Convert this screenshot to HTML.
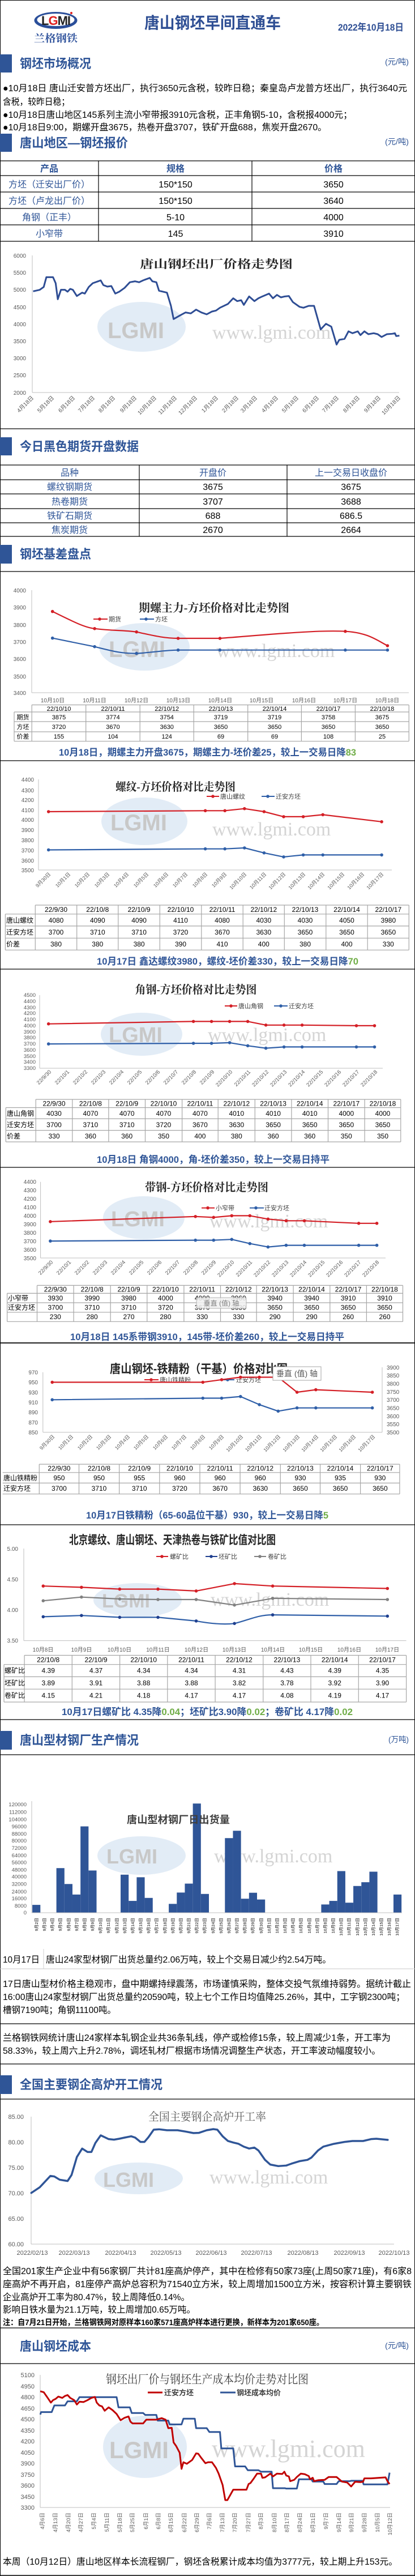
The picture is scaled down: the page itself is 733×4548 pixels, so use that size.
<!DOCTYPE html>
<html><head><meta charset="utf-8">
<style>
html,body{margin:0;padding:0;background:#fff;}
svg{display:block;}
text{font-family:"Liberation Sans","Noto Sans CJK SC",sans-serif;}
.sec{font-size:22px;font-weight:bold;fill:#2f5597;}
.unit{font-size:14px;fill:#2f5597;}
.p{font-size:16px;fill:#000;}
.cap{font-size:17px;font-weight:bold;fill:#2f5597;}
.g{fill:#70ad47;}
.ax{font-size:10px;fill:#595959;}
.axr{font-size:10px;fill:#595959;text-anchor:end;}
.tt{font-size:20px;font-weight:bold;fill:#262626;font-family:"Liberation Serif","Noto Serif CJK SC",serif;text-anchor:middle;}
.lg{font-size:11px;fill:#404040;}
.tc{font-size:11px;fill:#000;text-anchor:middle;}
.tl{font-size:11px;fill:#000;}
.mt{font-size:16px;fill:#000;text-anchor:middle;}
.mb{font-size:16px;fill:#2f5597;text-anchor:middle;}
.mh{font-size:16px;font-weight:bold;fill:#2f5597;text-anchor:middle;}
.wm{font-size:34px;fill:#d4d4d4;font-family:"Liberation Serif",serif;}
.rl{fill:none;stroke:#d41f26;stroke-width:2.2;stroke-linejoin:round;}
.bl{fill:none;stroke:#2f5fa8;stroke-width:2.2;stroke-linejoin:round;}
.gl{fill:none;stroke:#808080;stroke-width:2.2;stroke-linejoin:round;}
.grid line{stroke:#a6a6a6;stroke-width:1.2;}
.blk line{stroke:#000;stroke-width:1.2;}
.axl{stroke:#bfbfbf;stroke-width:1;}
</style></head>
<body>
<svg width="733" height="4548" viewBox="0 0 733 4548" xmlns="http://www.w3.org/2000/svg">
<rect x="0" y="0" width="733" height="4548" fill="#fff"/>
<!-- page frame -->
<line x1="0.5" y1="0" x2="0.5" y2="4548" stroke="#000"/>
<line x1="732.5" y1="0" x2="732.5" y2="4548" stroke="#000"/>
<line x1="0" y1="0.5" x2="733" y2="0.5" stroke="#000"/>
<line x1="0" y1="4547" x2="733" y2="4547" stroke="#000" stroke-width="1.5"/>

<!-- header -->
<ellipse cx="98.5" cy="36" rx="38" ry="15" fill="#2b4f9a"/>
<ellipse cx="98.5" cy="35" rx="33" ry="11" fill="#fff"/>
<text x="98.5" y="44" text-anchor="middle" style="font-size:22px;font-weight:bold;fill:#222;letter-spacing:-1px">L<tspan fill="#e0201f">G</tspan>MI</text>
<circle cx="126" cy="23" r="2" fill="#e0201f"/>
<text x="60" y="74" textLength="77" lengthAdjust="spacingAndGlyphs" style="font-size:18px;font-weight:bold;fill:#2b4f9a;font-family:'Noto Serif CJK SC',serif">兰格钢铁</text>
<text x="255" y="50" textLength="241" lengthAdjust="spacingAndGlyphs" style="font-size:28px;font-weight:bold;fill:#2f4f94">唐山钢坯早间直通车</text>
<text x="597" y="54" textLength="116" lengthAdjust="spacingAndGlyphs" style="font-size:17px;font-weight:bold;fill:#2f4f94">2022年10月18日</text>

<!-- section 1 -->
<rect x="0" y="96" width="21" height="32" fill="#2f5597"/>
<text class="sec" x="35" y="120" textLength="126" lengthAdjust="spacingAndGlyphs">钢坯市场概况</text>
<text class="unit" x="680" y="114" textLength="42" lengthAdjust="spacingAndGlyphs">(元/吨)</text>
<text class="p" x="5" y="161" textLength="714" lengthAdjust="spacingAndGlyphs">●10月18日 唐山迁安普方坯出厂，执行3650元含税，较昨日稳；秦皇岛卢龙普方坯出厂，执行3640元</text>
<text class="p" x="5" y="185" textLength="118" lengthAdjust="spacingAndGlyphs">含税，较昨日稳；</text>
<text class="p" x="5" y="208" textLength="617" lengthAdjust="spacingAndGlyphs">●10月18日唐山地区145系列主流小窄带报3910元含税，正丰角钢5-10，含税报4000元；</text>
<text class="p" x="5" y="230" textLength="572" lengthAdjust="spacingAndGlyphs">●10月18日9:00，期螺开盘3675，热卷开盘3707，铁矿开盘688，焦炭开盘2670。</text>

<rect x="0" y="236" width="21" height="32" fill="#2f5597"/>
<text class="sec" x="35" y="260" textLength="191" lengthAdjust="spacingAndGlyphs">唐山地区—钢坯报价</text>
<text class="unit" x="680" y="255" textLength="42" lengthAdjust="spacingAndGlyphs">(元/吨)</text>

<!-- table1 -->
<g class="blk">
<line x1="0" y1="284" x2="733" y2="284"/><line x1="0" y1="310" x2="733" y2="310"/>
<line x1="0" y1="339" x2="733" y2="339"/><line x1="0" y1="368" x2="733" y2="368"/>
<line x1="0" y1="397" x2="733" y2="397"/><line x1="0" y1="426" x2="733" y2="426"/>
<line x1="174" y1="284" x2="174" y2="426"/><line x1="445" y1="284" x2="445" y2="426"/>
</g>
<text class="mh" x="87" y="303">产品</text><text class="mh" x="310" y="303">规格</text><text class="mh" x="589" y="303">价格</text>
<text class="mb" x="87" y="331">方坯（迁安出厂价）</text><text class="mt" x="310" y="331">150*150</text><text class="mt" x="589" y="331">3650</text>
<text class="mb" x="87" y="360">方坯（卢龙出厂价）</text><text class="mt" x="310" y="360">150*150</text><text class="mt" x="589" y="360">3640</text>
<text class="mb" x="87" y="389">角钢（正丰）</text><text class="mt" x="310" y="389">5-10</text><text class="mt" x="589" y="389">4000</text>
<text class="mb" x="87" y="418">小窄带</text><text class="mt" x="310" y="418">145</text><text class="mt" x="589" y="418">3910</text>

<!-- chart1 -->
<ellipse cx="250" cy="577" rx="78" ry="44" fill="#dbe7f4" opacity="0.8"/>
<text x="190" y="597" style="font-size:40px;font-weight:bold;fill:#c8c8c8">LGMI</text>
<text class="wm" x="375" y="598">www.lgmi.com</text>
<line x1="57" y1="451" x2="57" y2="693" class="axl"/>
<line x1="57" y1="693" x2="705" y2="693" class="axl"/>
<g class="axr">
<text x="46" y="455">6000</text><text x="46" y="485">5500</text><text x="46" y="515">5000</text><text x="46" y="546">4500</text><text x="46" y="576">4000</text><text x="46" y="606">3500</text><text x="46" y="636">3000</text><text x="46" y="666">2500</text><text x="46" y="697">2000</text>
</g>
<text x="382" y="473" textLength="270" lengthAdjust="spacingAndGlyphs" class="tt">唐山钢坯出厂价格走势图</text>
<g style="font-size:10px;fill:#595959;text-anchor:end">
<text transform="translate(60,703) rotate(-45)">4月18日</text><text transform="translate(96,703) rotate(-45)">5月18日</text><text transform="translate(133,703) rotate(-45)">6月18日</text><text transform="translate(168,703) rotate(-45)">7月18日</text><text transform="translate(204,703) rotate(-45)">8月18日</text><text transform="translate(242,703) rotate(-45)">9月18日</text><text transform="translate(277,703) rotate(-45)">10月18日</text><text transform="translate(313,703) rotate(-45)">11月18日</text><text transform="translate(349,703) rotate(-45)">12月18日</text><text transform="translate(386,703) rotate(-45)">1月18日</text><text transform="translate(422,703) rotate(-45)">2月18日</text><text transform="translate(455,703) rotate(-45)">3月18日</text><text transform="translate(492,703) rotate(-45)">4月18日</text><text transform="translate(528,703) rotate(-45)">5月18日</text><text transform="translate(564,703) rotate(-45)">6月18日</text><text transform="translate(599,703) rotate(-45)">7月18日</text><text transform="translate(636,703) rotate(-45)">8月18日</text><text transform="translate(673,703) rotate(-45)">9月18日</text><text transform="translate(708,703) rotate(-45)">10月18日</text>
</g>
<g transform="translate(0,400) scale(0.4681,0.3333)">
<polyline vector-effect="non-scaling-stroke" fill="none" stroke="#2e4d94" stroke-width="3" stroke-linejoin="round" points="125,343 150,335 165,320 175,268 200,268 210,300 218,385 230,335 245,335 255,345 265,330 275,335 290,368 310,350 320,355 335,320 350,300 370,290 380,285 390,310 405,318 420,315 435,355 450,345 470,325 490,295 510,290 525,295 540,285 565,272 575,290 590,295 600,340 630,350 645,420 655,490 680,470 700,455 720,460 740,440 760,455 780,465 800,450 815,445 830,430 860,410 880,380 895,395 910,390 920,415 940,370 960,395 975,380 990,370 1015,355 1030,380 1045,362 1060,375 1075,370 1090,368 1105,400 1130,425 1145,430 1165,420 1185,420 1195,470 1210,545 1230,515 1250,530 1270,625 1280,600 1300,595 1315,555 1330,565 1350,555 1360,575 1375,555 1390,570 1410,565 1425,570 1440,585 1460,570 1480,568 1490,565 1495,580 1507,578"/>
</g>
<line x1="0" y1="757" x2="733" y2="757" stroke="#000" stroke-width="1.2"/>

<!-- section 3 -->
<rect x="0" y="772" width="21" height="32" fill="#2f5597"/>
<text class="sec" x="35" y="796" textLength="210" lengthAdjust="spacingAndGlyphs">今日黑色期货开盘数据</text>
<g class="blk">
<line x1="0" y1="821" x2="733" y2="821"/><line x1="0" y1="847" x2="733" y2="847"/>
<line x1="0" y1="872" x2="733" y2="872"/><line x1="0" y1="898" x2="733" y2="898"/>
<line x1="0" y1="923" x2="733" y2="923"/><line x1="0" y1="947" x2="733" y2="947"/>
<line x1="246" y1="821" x2="246" y2="947"/><line x1="507" y1="821" x2="507" y2="947"/>
</g>
<text class="mb" x="123" y="840">品种</text><text class="mb" x="376" y="840">开盘价</text><text class="mb" x="620" y="840">上一交易日收盘价</text>
<text class="mb" x="123" y="865">螺纹钢期货</text><text class="mt" x="376" y="865">3675</text><text class="mt" x="620" y="865">3675</text>
<text class="mb" x="123" y="891">热卷期货</text><text class="mt" x="376" y="891">3707</text><text class="mt" x="620" y="891">3688</text>
<text class="mb" x="123" y="916">铁矿石期货</text><text class="mt" x="376" y="916">688</text><text class="mt" x="620" y="916">686.5</text>
<text class="mb" x="123" y="941">焦炭期货</text><text class="mt" x="376" y="941">2670</text><text class="mt" x="620" y="941">2664</text>

<rect x="0" y="962" width="21" height="33" fill="#2f5597"/>
<text class="sec" x="35" y="986" textLength="126" lengthAdjust="spacingAndGlyphs">钢坯基差盘点</text>
<line x1="0" y1="1009" x2="733" y2="1009" stroke="#000" stroke-width="1.2"/>

<!-- chart2 -->
<ellipse cx="255" cy="1142" rx="80" ry="42" fill="#dbe7f4" opacity="0.8"/>
<text x="192" y="1160" style="font-size:40px;font-weight:bold;fill:#c8c8c8">LGMI</text>
<text class="wm" x="382" y="1160">www.lgmi.com</text>
<line x1="56" y1="1042" x2="56" y2="1223" class="axl"/><line x1="56" y1="1223" x2="722" y2="1223" class="axl"/>
<g class="axr"><text x="46" y="1046">4000</text><text x="46" y="1076">3900</text><text x="46" y="1107">3800</text><text x="46" y="1137">3700</text><text x="46" y="1167">3600</text><text x="46" y="1198">3500</text><text x="46" y="1227">3400</text></g>
<text class="tt" x="378" y="1080" textLength="266" lengthAdjust="spacingAndGlyphs">期螺主力-方坯价格对比走势图</text>
<line x1="165" y1="1093" x2="190" y2="1093" stroke="#d41f26" stroke-width="2"/><circle cx="176" cy="1093" r="2.8" fill="#d41f26"/><text class="lg" x="192" y="1097">期货</text>
<line x1="247" y1="1093" x2="272" y2="1093" stroke="#2f5fa8" stroke-width="2"/><circle cx="258" cy="1093" r="2.8" fill="#2f5fa8"/><text class="lg" x="274" y="1097">方坯</text>
<path class="rl" d="M92.7,1079.6 C130,1098 150,1108 167.1,1109.8 C200,1114 215,1112 241.1,1115.7 C270,1122 290,1127 314.6,1127 L388.5,1127 C480,1120 560,1112 609.9,1114.7 C650,1117 665,1130 684.4,1140"/>
<path class="bl" d="M92.7,1126.6 L167.1,1141.7 C200,1150 215,1154 241.1,1153.6 C270,1152 290,1148 314.6,1147.7 L684.4,1147.7"/>
<g fill="#d41f26"><circle cx="92.7" cy="1079.6" r="2.8"/><circle cx="167.1" cy="1109.8" r="2.8"/><circle cx="241.1" cy="1115.7" r="2.8"/><circle cx="314.6" cy="1127" r="2.8"/><circle cx="388.5" cy="1127" r="2.8"/><circle cx="609.9" cy="1114.7" r="2.8"/><circle cx="684.4" cy="1140" r="2.8"/></g>
<g fill="#2f5fa8"><circle cx="92.7" cy="1126.6" r="2.8"/><circle cx="167.1" cy="1141.7" r="2.8"/><circle cx="241.1" cy="1153.6" r="2.8"/><circle cx="314.6" cy="1147.7" r="2.8"/><circle cx="388.5" cy="1147.7" r="2.8"/><circle cx="609.9" cy="1147.7" r="2.8"/><circle cx="684.4" cy="1147.7" r="2.8"/></g>
<g class="ax" text-anchor="middle"><text x="93" y="1240">10月10日</text><text x="167" y="1240">10月11日</text><text x="241" y="1240">10月12日</text><text x="315" y="1240">10月13日</text><text x="389" y="1240">10月14日</text><text x="462" y="1240">10月15日</text><text x="537" y="1240">10月16日</text><text x="610" y="1240">10月17日</text><text x="684" y="1240">10月18日</text></g>
<g class="grid">
<line x1="56" y1="1244.5" x2="722" y2="1244.5"/><line x1="25" y1="1257" x2="722" y2="1257"/><line x1="25" y1="1274" x2="722" y2="1274"/><line x1="25" y1="1292" x2="722" y2="1292"/><line x1="25" y1="1308.7" x2="722" y2="1308.7"/>
<line x1="25" y1="1257" x2="25" y2="1308.7"/><line x1="56.2" y1="1244.5" x2="56.2" y2="1308.7"/><line x1="151.7" y1="1244.5" x2="151.7" y2="1308.7"/><line x1="247.2" y1="1244.5" x2="247.2" y2="1308.7"/><line x1="342.2" y1="1244.5" x2="342.2" y2="1308.7"/><line x1="437.7" y1="1244.5" x2="437.7" y2="1308.7"/><line x1="532.4" y1="1244.5" x2="532.4" y2="1308.7"/><line x1="627.4" y1="1244.5" x2="627.4" y2="1308.7"/><line x1="722.3" y1="1244.5" x2="722.3" y2="1308.7"/>
</g>
<g class="tc">
<text x="104" y="1255">22/10/10</text><text x="199.5" y="1255">22/10/11</text><text x="294.7" y="1255">22/10/12</text><text x="390" y="1255">22/10/13</text><text x="485" y="1255">22/10/14</text><text x="580" y="1255">22/10/17</text><text x="675" y="1255">22/10/18</text>
<text x="104" y="1270">3875</text><text x="199.5" y="1270">3774</text><text x="294.7" y="1270">3754</text><text x="390" y="1270">3719</text><text x="485" y="1270">3719</text><text x="580" y="1270">3758</text><text x="675" y="1270">3675</text>
<text x="104" y="1287">3720</text><text x="199.5" y="1287">3670</text><text x="294.7" y="1287">3630</text><text x="390" y="1287">3650</text><text x="485" y="1287">3650</text><text x="580" y="1287">3650</text><text x="675" y="1287">3650</text>
<text x="104" y="1304">155</text><text x="199.5" y="1304">104</text><text x="294.7" y="1304">124</text><text x="390" y="1304">69</text><text x="485" y="1304">69</text><text x="580" y="1304">108</text><text x="675" y="1304">25</text>
<text x="40.5" y="1270">期货</text><text x="40.5" y="1287">方坯</text><text x="40.5" y="1304">价差</text>
</g>
<text class="cap" x="104" y="1334" textLength="525" lengthAdjust="spacingAndGlyphs">10月18日，期螺主力开盘3675，期螺主力-坯价差25，较上一交易日降<tspan class="g">83</tspan></text>
<line x1="0" y1="1343" x2="733" y2="1343" stroke="#000" stroke-width="1.2"/>

<!-- chart3 -->
<ellipse cx="255" cy="1450" rx="76" ry="42" fill="#dbe7f4" opacity="0.8"/>
<text x="195" y="1466" style="font-size:40px;font-weight:bold;fill:#c8c8c8">LGMI</text>
<text class="wm" x="375" y="1475">www.lgmi.com</text>
<line x1="68" y1="1376" x2="68" y2="1536" class="axl"/><line x1="68" y1="1536" x2="692" y2="1536" class="axl"/>
<g class="axr"><text x="60" y="1380">4400</text><text x="60" y="1399">4300</text><text x="60" y="1416">4200</text><text x="60" y="1434">4100</text><text x="60" y="1451">4000</text><text x="60" y="1469">3900</text><text x="60" y="1487">3800</text><text x="60" y="1505">3700</text><text x="60" y="1523">3600</text><text x="60" y="1540">3500</text></g>
<text class="tt" x="310" y="1396" textLength="212" lengthAdjust="spacingAndGlyphs">螺纹-方坯价格对比走势图</text>
<line x1="365" y1="1406" x2="387" y2="1406" stroke="#d41f26" stroke-width="2"/><circle cx="376" cy="1406" r="2.8" fill="#d41f26"/><text class="lg" x="389" y="1410">唐山螺纹</text>
<line x1="462" y1="1406" x2="485" y2="1406" stroke="#2f5fa8" stroke-width="2"/><circle cx="473" cy="1406" r="2.8" fill="#2f5fa8"/><text class="lg" x="487" y="1410">迁安方坯</text>
<polyline class="rl" points="85.7,1433 362.6,1431.3 397.2,1431.3 431.8,1427.7 466.4,1433 501,1441.9 535.6,1441.9 570.2,1438.4 674.1,1450.8"/>
<polyline class="bl" points="85.7,1500.5 362.6,1498.7 397.2,1498.7 431.8,1497 466.4,1505.8 501,1512.9 535.6,1509.4 570.2,1509.4 674.1,1509.4"/>
<g fill="#d41f26"><circle cx="85.7" cy="1433" r="2.8"/><circle cx="362.6" cy="1431.3" r="2.8"/><circle cx="397.2" cy="1431.3" r="2.8"/><circle cx="431.8" cy="1427.7" r="2.8"/><circle cx="466.4" cy="1433" r="2.8"/><circle cx="501" cy="1441.9" r="2.8"/><circle cx="535.6" cy="1441.9" r="2.8"/><circle cx="570.2" cy="1438.4" r="2.8"/><circle cx="674.1" cy="1450.8" r="2.8"/></g>
<g fill="#2f5fa8"><circle cx="85.7" cy="1500.5" r="2.8"/><circle cx="362.6" cy="1498.7" r="2.8"/><circle cx="397.2" cy="1498.7" r="2.8"/><circle cx="431.8" cy="1497" r="2.8"/><circle cx="466.4" cy="1505.8" r="2.8"/><circle cx="501" cy="1512.9" r="2.8"/><circle cx="535.6" cy="1509.4" r="2.8"/><circle cx="570.2" cy="1509.4" r="2.8"/><circle cx="674.1" cy="1509.4" r="2.8"/></g>
<g style="font-size:9px;fill:#595959;text-anchor:end">
<text transform="translate(90,1544) rotate(-45)">9月30日</text><text transform="translate(125,1544) rotate(-45)">10月1日</text><text transform="translate(159,1544) rotate(-45)">10月2日</text><text transform="translate(194,1544) rotate(-45)">10月3日</text><text transform="translate(228,1544) rotate(-45)">10月4日</text><text transform="translate(263,1544) rotate(-45)">10月5日</text><text transform="translate(298,1544) rotate(-45)">10月6日</text><text transform="translate(332,1544) rotate(-45)">10月7日</text><text transform="translate(367,1544) rotate(-45)">10月8日</text><text transform="translate(401,1544) rotate(-45)">10月9日</text><text transform="translate(436,1544) rotate(-45)">10月10日</text><text transform="translate(471,1544) rotate(-45)">10月11日</text><text transform="translate(505,1544) rotate(-45)">10月12日</text><text transform="translate(540,1544) rotate(-45)">10月13日</text><text transform="translate(574,1544) rotate(-45)">10月14日</text><text transform="translate(609,1544) rotate(-45)">10月15日</text><text transform="translate(644,1544) rotate(-45)">10月16日</text><text transform="translate(678,1544) rotate(-45)">10月17日</text>
</g>
<g class="grid">
<line x1="62.3" y1="1598" x2="722.3" y2="1598"/><line x1="9.4" y1="1613.8" x2="722.3" y2="1613.8"/><line x1="9.4" y1="1634.9" x2="722.3" y2="1634.9"/><line x1="9.4" y1="1656.3" x2="722.3" y2="1656.3"/><line x1="9.4" y1="1677.3" x2="722.3" y2="1677.3"/>
<line x1="9.4" y1="1613.8" x2="9.4" y2="1677.3"/><line x1="62.3" y1="1598" x2="62.3" y2="1677.3"/><line x1="135.7" y1="1598" x2="135.7" y2="1677.3"/><line x1="208.8" y1="1598" x2="208.8" y2="1677.3"/><line x1="282.3" y1="1598" x2="282.3" y2="1677.3"/><line x1="355.8" y1="1598" x2="355.8" y2="1677.3"/><line x1="429.2" y1="1598" x2="429.2" y2="1677.3"/><line x1="502.3" y1="1598" x2="502.3" y2="1677.3"/><line x1="575.8" y1="1598" x2="575.8" y2="1677.3"/><line x1="649.2" y1="1598" x2="649.2" y2="1677.3"/><line x1="722.3" y1="1598" x2="722.3" y2="1677.3"/>
</g>
<g class="tc" style="font-size:12px">
<text x="99" y="1610">22/9/30</text><text x="172.3" y="1610">22/10/8</text><text x="245.6" y="1610">22/10/9</text><text x="319" y="1610">22/10/10</text><text x="392.5" y="1610">22/10/11</text><text x="465.8" y="1610">22/10/12</text><text x="539" y="1610">22/10/13</text><text x="612.5" y="1610">22/10/14</text><text x="685.8" y="1610">22/10/17</text>
<text x="99" y="1629">4080</text><text x="172.3" y="1629">4090</text><text x="245.6" y="1629">4090</text><text x="319" y="1629">4110</text><text x="392.5" y="1629">4080</text><text x="465.8" y="1629">4030</text><text x="539" y="1629">4030</text><text x="612.5" y="1629">4050</text><text x="685.8" y="1629">3980</text>
<text x="99" y="1650">3700</text><text x="172.3" y="1650">3710</text><text x="245.6" y="1650">3710</text><text x="319" y="1650">3720</text><text x="392.5" y="1650">3670</text><text x="465.8" y="1650">3630</text><text x="539" y="1650">3650</text><text x="612.5" y="1650">3650</text><text x="685.8" y="1650">3650</text>
<text x="99" y="1671">380</text><text x="172.3" y="1671">380</text><text x="245.6" y="1671">380</text><text x="319" y="1671">390</text><text x="392.5" y="1671">410</text><text x="465.8" y="1671">400</text><text x="539" y="1671">380</text><text x="612.5" y="1671">400</text><text x="685.8" y="1671">330</text>
</g>
<g class="tl" style="font-size:12px"><text x="11" y="1629">唐山螺纹</text><text x="11" y="1650">迁安方坯</text><text x="11" y="1671">价差</text></g>
<text class="cap" x="171" y="1703" textLength="462" lengthAdjust="spacingAndGlyphs">10月17日 鑫达螺纹3980，螺纹-坯价差330，较上一交易日降<tspan class="g">70</tspan></text>
<line x1="0" y1="1711" x2="733" y2="1711" stroke="#000" stroke-width="1.2"/>

<!-- chart4 -->
<ellipse cx="250" cy="1826" rx="72" ry="38" fill="#dbe7f4" opacity="0.8"/>
<text x="192" y="1840" style="font-size:38px;font-weight:bold;fill:#c8c8c8">LGMI</text>
<text class="wm" x="367" y="1838">www.lgmi.com</text>
<line x1="70" y1="1757" x2="70" y2="1886" class="axl"/><line x1="70" y1="1886" x2="676" y2="1886" class="axl"/>
<g class="axr" style="font-size:9.5px"><text x="63" y="1760">4500</text><text x="63" y="1771">4400</text><text x="63" y="1782">4300</text><text x="63" y="1792">4200</text><text x="63" y="1803">4100</text><text x="63" y="1814">4000</text><text x="63" y="1825">3900</text><text x="63" y="1835">3800</text><text x="63" y="1846">3700</text><text x="63" y="1857">3600</text><text x="63" y="1868">3500</text><text x="63" y="1878">3400</text><text x="63" y="1889">3300</text></g>
<text class="tt" x="346" y="1754" textLength="215" lengthAdjust="spacingAndGlyphs">角钢-方坯价格对比走势图</text>
<line x1="397" y1="1776" x2="419" y2="1776" stroke="#d41f26" stroke-width="2"/><circle cx="408" cy="1776" r="2.8" fill="#d41f26"/><text class="lg" x="421" y="1780">唐山角钢</text>
<line x1="484" y1="1776" x2="508" y2="1776" stroke="#2f5fa8" stroke-width="2"/><circle cx="496" cy="1776" r="2.8" fill="#2f5fa8"/><text class="lg" x="510" y="1780">迁安方坯</text>
<polyline class="rl" points="85.7,1807.7 341.6,1803.4 373.6,1803.4 405.6,1803.4 437.6,1803.4 469.6,1809.8 501.6,1809.8 533.6,1809.8 629.5,1810.9 661.5,1810.9"/>
<polyline class="bl" points="85.7,1843.1 341.6,1842 373.6,1842 405.6,1840.9 437.6,1846.3 469.6,1850.6 501.6,1848.4 533.6,1848.4 629.5,1848.4 661.5,1848.4"/>
<g fill="#d41f26"><circle cx="85.7" cy="1807.7" r="2.8"/><circle cx="341.6" cy="1803.4" r="2.8"/><circle cx="373.6" cy="1803.4" r="2.8"/><circle cx="405.6" cy="1803.4" r="2.8"/><circle cx="437.6" cy="1803.4" r="2.8"/><circle cx="469.6" cy="1809.8" r="2.8"/><circle cx="501.6" cy="1809.8" r="2.8"/><circle cx="533.6" cy="1809.8" r="2.8"/><circle cx="629.5" cy="1810.9" r="2.8"/><circle cx="661.5" cy="1810.9" r="2.8"/></g>
<g fill="#2f5fa8"><circle cx="85.7" cy="1843.1" r="2.8"/><circle cx="341.6" cy="1842" r="2.8"/><circle cx="373.6" cy="1842" r="2.8"/><circle cx="405.6" cy="1840.9" r="2.8"/><circle cx="437.6" cy="1846.3" r="2.8"/><circle cx="469.6" cy="1850.6" r="2.8"/><circle cx="501.6" cy="1848.4" r="2.8"/><circle cx="533.6" cy="1848.4" r="2.8"/><circle cx="629.5" cy="1848.4" r="2.8"/><circle cx="661.5" cy="1848.4" r="2.8"/></g>
<g style="font-size:9.5px;fill:#595959;text-anchor:end">
<text transform="translate(91,1893) rotate(-45)">22/9/30</text><text transform="translate(123,1893) rotate(-45)">22/10/1</text><text transform="translate(155,1893) rotate(-45)">22/10/2</text><text transform="translate(187,1893) rotate(-45)">22/10/3</text><text transform="translate(219,1893) rotate(-45)">22/10/4</text><text transform="translate(251,1893) rotate(-45)">22/10/5</text><text transform="translate(283,1893) rotate(-45)">22/10/6</text><text transform="translate(315,1893) rotate(-45)">22/10/7</text><text transform="translate(347,1893) rotate(-45)">22/10/8</text><text transform="translate(379,1893) rotate(-45)">22/10/9</text><text transform="translate(411,1893) rotate(-45)">22/10/10</text><text transform="translate(443,1893) rotate(-45)">22/10/11</text><text transform="translate(475,1893) rotate(-45)">22/10/12</text><text transform="translate(507,1893) rotate(-45)">22/10/13</text><text transform="translate(539,1893) rotate(-45)">22/10/14</text><text transform="translate(571,1893) rotate(-45)">22/10/15</text><text transform="translate(603,1893) rotate(-45)">22/10/16</text><text transform="translate(635,1893) rotate(-45)">22/10/17</text><text transform="translate(667,1893) rotate(-45)">22/10/18</text>
</g>
<g class="grid">
<line x1="63.2" y1="1941" x2="707.8" y2="1941"/><line x1="10.3" y1="1955.5" x2="707.8" y2="1955.5"/><line x1="10.3" y1="1975.1" x2="707.8" y2="1975.1"/><line x1="10.3" y1="1995.6" x2="707.8" y2="1995.6"/><line x1="10.3" y1="2016" x2="707.8" y2="2016"/>
<line x1="10.3" y1="1955.5" x2="10.3" y2="2016"/><line x1="63.2" y1="1941" x2="63.2" y2="2016"/><line x1="127.8" y1="1941" x2="127.8" y2="2016"/><line x1="191.9" y1="1941" x2="191.9" y2="2016"/><line x1="256.5" y1="1941" x2="256.5" y2="2016"/><line x1="321.6" y1="1941" x2="321.6" y2="2016"/><line x1="385.2" y1="1941" x2="385.2" y2="2016"/><line x1="450.3" y1="1941" x2="450.3" y2="2016"/><line x1="514.9" y1="1941" x2="514.9" y2="2016"/><line x1="579.5" y1="1941" x2="579.5" y2="2016"/><line x1="644.1" y1="1941" x2="644.1" y2="2016"/><line x1="707.8" y1="1941" x2="707.8" y2="2016"/>
</g>
<g class="tc" style="font-size:12px">
<text x="95.5" y="1952.5">22/9/30</text><text x="159.9" y="1952.5">22/10/8</text><text x="224.2" y="1952.5">22/10/9</text><text x="289" y="1952.5">22/10/10</text><text x="353.4" y="1952.5">22/10/11</text><text x="417.8" y="1952.5">22/10/12</text><text x="482.6" y="1952.5">22/10/13</text><text x="547.2" y="1952.5">22/10/14</text><text x="611.8" y="1952.5">22/10/17</text><text x="676" y="1952.5">22/10/18</text>
<text x="95.5" y="1970">4030</text><text x="159.9" y="1970">4070</text><text x="224.2" y="1970">4070</text><text x="289" y="1970">4070</text><text x="353.4" y="1970">4070</text><text x="417.8" y="1970">4010</text><text x="482.6" y="1970">4010</text><text x="547.2" y="1970">4010</text><text x="611.8" y="1970">4000</text><text x="676" y="1970">4000</text>
<text x="95.5" y="1990">3700</text><text x="159.9" y="1990">3710</text><text x="224.2" y="1990">3710</text><text x="289" y="1990">3720</text><text x="353.4" y="1990">3670</text><text x="417.8" y="1990">3630</text><text x="482.6" y="1990">3650</text><text x="547.2" y="1990">3650</text><text x="611.8" y="1990">3650</text><text x="676" y="1990">3650</text>
<text x="95.5" y="2010">330</text><text x="159.9" y="2010">360</text><text x="224.2" y="2010">360</text><text x="289" y="2010">350</text><text x="353.4" y="2010">400</text><text x="417.8" y="2010">380</text><text x="482.6" y="2010">360</text><text x="547.2" y="2010">360</text><text x="611.8" y="2010">350</text><text x="676" y="2010">350</text>
</g>
<g class="tl" style="font-size:12px"><text x="12" y="1970">唐山角钢</text><text x="12" y="1990">迁安方坯</text><text x="12" y="2010">价差</text></g>
<text class="cap" x="171" y="2053" textLength="411" lengthAdjust="spacingAndGlyphs">10月18日 角钢4000，角-坯价差350，较上一交易日持平</text>
<line x1="0" y1="2061" x2="733" y2="2061" stroke="#000" stroke-width="1.2"/>

<!-- chart5 -->
<ellipse cx="254" cy="2150" rx="72" ry="38" fill="#dbe7f4" opacity="0.8"/>
<text x="196" y="2165" style="font-size:38px;font-weight:bold;fill:#c8c8c8">LGMI</text>
<text class="wm" x="370" y="2167">www.lgmi.com</text>
<line x1="71.6" y1="2086.6" x2="71.6" y2="2221" class="axl"/><line x1="71.6" y1="2221" x2="681" y2="2221" class="axl"/>
<g class="axr"><text x="64" y="2090">4400</text><text x="64" y="2105">4300</text><text x="64" y="2120">4200</text><text x="64" y="2135">4100</text><text x="64" y="2150">4000</text><text x="64" y="2165">3900</text><text x="64" y="2180">3800</text><text x="64" y="2195">3700</text><text x="64" y="2210">3600</text><text x="64" y="2225">3500</text></g>
<text class="tt" x="365" y="2103" textLength="218" lengthAdjust="spacingAndGlyphs">带钢-方坯价格对比走势图</text>
<line x1="356" y1="2132.6" x2="379" y2="2132.6" stroke="#d41f26" stroke-width="2"/><circle cx="367" cy="2132.6" r="2.8" fill="#d41f26"/><text class="lg" x="381" y="2136.6">小窄带</text>
<line x1="441" y1="2132.6" x2="466" y2="2132.6" stroke="#2f5fa8" stroke-width="2"/><circle cx="452" cy="2132.6" r="2.8" fill="#2f5fa8"/><text class="lg" x="467" y="2136.6">迁安方坯</text>
<polyline class="rl" points="88.9,2156.8 345.2,2147.8 377.3,2149.3 409.3,2146.4 441.3,2146.4 473.4,2152.3 505.4,2155.3 537.5,2155.3 633.6,2159.8 665.6,2159.8"/>
<polyline class="bl" points="88.9,2191.1 345.2,2189.6 377.3,2189.6 409.3,2188.2 441.3,2195.6 473.4,2201.6 505.4,2198.6 537.5,2198.6 633.6,2198.6 665.6,2198.6"/>
<g fill="#d41f26"><circle cx="88.9" cy="2156.8" r="2.8"/><circle cx="345.2" cy="2147.8" r="2.8"/><circle cx="377.3" cy="2149.3" r="2.8"/><circle cx="409.3" cy="2146.4" r="2.8"/><circle cx="441.3" cy="2146.4" r="2.8"/><circle cx="473.4" cy="2152.3" r="2.8"/><circle cx="505.4" cy="2155.3" r="2.8"/><circle cx="537.5" cy="2155.3" r="2.8"/><circle cx="633.6" cy="2159.8" r="2.8"/><circle cx="665.6" cy="2159.8" r="2.8"/></g>
<g fill="#2f5fa8"><circle cx="88.9" cy="2191.1" r="2.8"/><circle cx="345.2" cy="2189.6" r="2.8"/><circle cx="377.3" cy="2189.6" r="2.8"/><circle cx="409.3" cy="2188.2" r="2.8"/><circle cx="441.3" cy="2195.6" r="2.8"/><circle cx="473.4" cy="2201.6" r="2.8"/><circle cx="505.4" cy="2198.6" r="2.8"/><circle cx="537.5" cy="2198.6" r="2.8"/><circle cx="633.6" cy="2198.6" r="2.8"/><circle cx="665.6" cy="2198.6" r="2.8"/></g>
<g style="font-size:9.5px;fill:#595959;text-anchor:end">
<text transform="translate(94,2229) rotate(-45)">22/9/30</text><text transform="translate(126,2229) rotate(-45)">22/10/1</text><text transform="translate(158,2229) rotate(-45)">22/10/2</text><text transform="translate(190,2229) rotate(-45)">22/10/3</text><text transform="translate(222,2229) rotate(-45)">22/10/4</text><text transform="translate(254,2229) rotate(-45)">22/10/5</text><text transform="translate(286,2229) rotate(-45)">22/10/6</text><text transform="translate(318,2229) rotate(-45)">22/10/7</text><text transform="translate(350,2229) rotate(-45)">22/10/8</text><text transform="translate(382,2229) rotate(-45)">22/10/9</text><text transform="translate(414,2229) rotate(-45)">22/10/10</text><text transform="translate(446,2229) rotate(-45)">22/10/11</text><text transform="translate(478,2229) rotate(-45)">22/10/12</text><text transform="translate(510,2229) rotate(-45)">22/10/13</text><text transform="translate(542,2229) rotate(-45)">22/10/14</text><text transform="translate(574,2229) rotate(-45)">22/10/15</text><text transform="translate(606,2229) rotate(-45)">22/10/16</text><text transform="translate(638,2229) rotate(-45)">22/10/17</text><text transform="translate(670,2229) rotate(-45)">22/10/18</text>
</g>
<g class="grid">
<line x1="65.5" y1="2269.4" x2="711.5" y2="2269.4"/><line x1="12.6" y1="2283.4" x2="711.5" y2="2283.4"/><line x1="12.6" y1="2300" x2="711.5" y2="2300"/><line x1="12.6" y1="2316.8" x2="711.5" y2="2316.8"/><line x1="12.6" y1="2333.3" x2="711.5" y2="2333.3"/>
<line x1="12.6" y1="2283.4" x2="12.6" y2="2333.3"/><line x1="65.5" y1="2269.4" x2="65.5" y2="2333.3"/><line x1="130.1" y1="2269.4" x2="130.1" y2="2333.3"/><line x1="195.2" y1="2269.4" x2="195.2" y2="2333.3"/><line x1="259.8" y1="2269.4" x2="259.8" y2="2333.3"/><line x1="324.9" y1="2269.4" x2="324.9" y2="2333.3"/><line x1="389.5" y1="2269.4" x2="389.5" y2="2333.3"/><line x1="453.1" y1="2269.4" x2="453.1" y2="2333.3"/><line x1="518.1" y1="2269.4" x2="518.1" y2="2333.3"/><line x1="582.8" y1="2269.4" x2="582.8" y2="2333.3"/><line x1="647.4" y1="2269.4" x2="647.4" y2="2333.3"/><line x1="711.5" y1="2269.4" x2="711.5" y2="2333.3"/>
</g>
<g class="tc" style="font-size:12px">
<text x="97.8" y="2280.5">22/9/30</text><text x="162.7" y="2280.5">22/10/8</text><text x="227.5" y="2280.5">22/10/9</text><text x="292.4" y="2280.5">22/10/10</text><text x="357.2" y="2280.5">22/10/11</text><text x="421.3" y="2280.5">22/10/12</text><text x="485.6" y="2280.5">22/10/13</text><text x="550.5" y="2280.5">22/10/14</text><text x="615.1" y="2280.5">22/10/17</text><text x="679.5" y="2280.5">22/10/18</text>
<text x="97.8" y="2296">3930</text><text x="162.7" y="2296">3990</text><text x="227.5" y="2296">3980</text><text x="292.4" y="2296">4000</text><text x="357.2" y="2296">4000</text><text x="421.3" y="2296">3960</text><text x="485.6" y="2296">3940</text><text x="550.5" y="2296">3940</text><text x="615.1" y="2296">3910</text><text x="679.5" y="2296">3910</text>
<text x="97.8" y="2312.5">3700</text><text x="162.7" y="2312.5">3710</text><text x="227.5" y="2312.5">3710</text><text x="292.4" y="2312.5">3720</text><text x="357.2" y="2312.5">3670</text><text x="421.3" y="2312.5">3630</text><text x="485.6" y="2312.5">3650</text><text x="550.5" y="2312.5">3650</text><text x="615.1" y="2312.5">3650</text><text x="679.5" y="2312.5">3650</text>
<text x="97.8" y="2329">230</text><text x="162.7" y="2329">280</text><text x="227.5" y="2329">270</text><text x="292.4" y="2329">280</text><text x="357.2" y="2329">330</text><text x="421.3" y="2329">330</text><text x="485.6" y="2329">290</text><text x="550.5" y="2329">290</text><text x="615.1" y="2329">260</text><text x="679.5" y="2329">260</text>
</g>
<g class="tl" style="font-size:12px"><text x="14" y="2296">小窄带</text><text x="14" y="2312.5">迁安方坯</text></g>
<rect x="347" y="2291" width="88" height="19" fill="#f2f2f2" stroke="#a6a6a6" opacity="0.85"/>
<text x="391" y="2305" text-anchor="middle" style="font-size:12px;fill:#808080">垂直 (值) 轴</text>
<text class="cap" x="124" y="2366" textLength="484" lengthAdjust="spacingAndGlyphs">10月18日 145系带钢3910，145带-坯价差260，较上一交易日持平</text>
<line x1="0" y1="2371" x2="733" y2="2371" stroke="#000" stroke-width="1.8"/>

<!-- chart6 -->
<line x1="75.8" y1="2422.7" x2="75.8" y2="2528.7" class="axl"/><line x1="675" y1="2414" x2="675" y2="2528.7" class="axl"/><line x1="75.8" y1="2528.7" x2="675" y2="2528.7" class="axl"/>
<g class="axr"><text x="67" y="2426.5">970</text><text x="67" y="2444">950</text><text x="67" y="2462">930</text><text x="67" y="2479.5">910</text><text x="67" y="2497">890</text><text x="67" y="2515">870</text><text x="67" y="2532.5">850</text></g>
<g class="ax"><text x="683" y="2418">3900</text><text x="683" y="2432">3850</text><text x="683" y="2446.5">3800</text><text x="683" y="2461">3750</text><text x="683" y="2475">3700</text><text x="683" y="2489.5">3650</text><text x="683" y="2504">3600</text><text x="683" y="2518">3550</text><text x="683" y="2532.5">3500</text></g>
<text x="194" y="2424" textLength="314" lengthAdjust="spacingAndGlyphs" style="font-size:21px;font-weight:bold;fill:#262626">唐山钢坯-铁精粉（干基）价格对比图</text>
<line x1="255" y1="2436" x2="280" y2="2436" stroke="#d41f26" stroke-width="2"/><circle cx="267" cy="2436" r="2.8" fill="#d41f26"/><text class="lg" x="282" y="2440">唐山铁精粉</text>
<line x1="389" y1="2436" x2="414" y2="2436" stroke="#2f5fa8" stroke-width="2"/><circle cx="402" cy="2436" r="2.8" fill="#2f5fa8"/><text class="lg" x="417" y="2440">迁安方坯</text>
<polyline class="rl" points="92.2,2440.4 358.3,2440.4 391.5,2435.9 424.8,2431.5 458.1,2431.5 491.3,2431.5 524.6,2458 557.8,2453.6 657.6,2458"/>
<polyline class="bl" points="92.2,2471.3 358.3,2468.5 391.5,2468.5 424.8,2465.6 458.1,2479.9 491.3,2491.4 524.6,2485.7 557.8,2485.7 657.6,2485.7"/>
<g fill="#d41f26"><circle cx="92.2" cy="2440.4" r="2.8"/><circle cx="358.3" cy="2440.4" r="2.8"/><circle cx="391.5" cy="2435.9" r="2.8"/><circle cx="424.8" cy="2431.5" r="2.8"/><circle cx="458.1" cy="2431.5" r="2.8"/><circle cx="491.3" cy="2431.5" r="2.8"/><circle cx="524.6" cy="2458" r="2.8"/><circle cx="557.8" cy="2453.6" r="2.8"/><circle cx="657.6" cy="2458" r="2.8"/></g>
<g fill="#2f5fa8"><circle cx="92.2" cy="2471.3" r="2.8"/><circle cx="358.3" cy="2468.5" r="2.8"/><circle cx="391.5" cy="2468.5" r="2.8"/><circle cx="424.8" cy="2465.6" r="2.8"/><circle cx="458.1" cy="2479.9" r="2.8"/><circle cx="491.3" cy="2491.4" r="2.8"/><circle cx="524.6" cy="2485.7" r="2.8"/><circle cx="557.8" cy="2485.7" r="2.8"/><circle cx="657.6" cy="2485.7" r="2.8"/></g>
<rect x="482" y="2413" width="85" height="24" fill="#fff" stroke="#a6a6a6"/>
<text x="524.5" y="2430" text-anchor="middle" style="font-size:14px;fill:#595959">垂直 (值) 轴</text>
<g style="font-size:9px;fill:#595959;text-anchor:end">
<text transform="translate(97,2537) rotate(-45)">9月30日</text><text transform="translate(130,2537) rotate(-45)">10月1日</text><text transform="translate(164,2537) rotate(-45)">10月2日</text><text transform="translate(197,2537) rotate(-45)">10月3日</text><text transform="translate(230,2537) rotate(-45)">10月4日</text><text transform="translate(263,2537) rotate(-45)">10月5日</text><text transform="translate(297,2537) rotate(-45)">10月6日</text><text transform="translate(330,2537) rotate(-45)">10月7日</text><text transform="translate(363,2537) rotate(-45)">10月8日</text><text transform="translate(396,2537) rotate(-45)">10月9日</text><text transform="translate(430,2537) rotate(-45)">10月10日</text><text transform="translate(463,2537) rotate(-45)">10月11日</text><text transform="translate(496,2537) rotate(-45)">10月12日</text><text transform="translate(530,2537) rotate(-45)">10月13日</text><text transform="translate(563,2537) rotate(-45)">10月14日</text><text transform="translate(596,2537) rotate(-45)">10月15日</text><text transform="translate(629,2537) rotate(-45)">10月16日</text><text transform="translate(663,2537) rotate(-45)">10月17日</text>
</g>
<g class="grid">
<line x1="69.3" y1="2585.1" x2="705.9" y2="2585.1"/><line x1="4.7" y1="2599.8" x2="705.9" y2="2599.8"/><line x1="4.7" y1="2618.4" x2="705.9" y2="2618.4"/><line x1="4.7" y1="2637.7" x2="705.9" y2="2637.7"/>
<line x1="69.3" y1="2585.1" x2="69.3" y2="2637.7"/><line x1="139.5" y1="2585.1" x2="139.5" y2="2637.7"/><line x1="210.6" y1="2585.1" x2="210.6" y2="2637.7"/><line x1="281.8" y1="2585.1" x2="281.8" y2="2637.7"/><line x1="353" y1="2585.1" x2="353" y2="2637.7"/><line x1="424.1" y1="2585.1" x2="424.1" y2="2637.7"/><line x1="495.3" y1="2585.1" x2="495.3" y2="2637.7"/><line x1="565.5" y1="2585.1" x2="565.5" y2="2637.7"/><line x1="636.6" y1="2585.1" x2="636.6" y2="2637.7"/><line x1="705.9" y1="2585.1" x2="705.9" y2="2637.7"/>
</g>
<g class="tc" style="font-size:12px">
<text x="104.4" y="2596.5">22/9/30</text><text x="175" y="2596.5">22/10/8</text><text x="246.2" y="2596.5">22/10/9</text><text x="317.4" y="2596.5">22/10/10</text><text x="388.6" y="2596.5">22/10/11</text><text x="459.7" y="2596.5">22/10/12</text><text x="530.4" y="2596.5">22/10/13</text><text x="601" y="2596.5">22/10/14</text><text x="671.3" y="2596.5">22/10/17</text>
<text x="104.4" y="2613.5">950</text><text x="175" y="2613.5">950</text><text x="246.2" y="2613.5">955</text><text x="317.4" y="2613.5">960</text><text x="388.6" y="2613.5">960</text><text x="459.7" y="2613.5">960</text><text x="530.4" y="2613.5">930</text><text x="601" y="2613.5">935</text><text x="671.3" y="2613.5">930</text>
<text x="104.4" y="2632">3700</text><text x="175" y="2632">3710</text><text x="246.2" y="2632">3710</text><text x="317.4" y="2632">3720</text><text x="388.6" y="2632">3670</text><text x="459.7" y="2632">3630</text><text x="530.4" y="2632">3650</text><text x="601" y="2632">3650</text><text x="671.3" y="2632">3650</text>
</g>
<g class="tl" style="font-size:12px"><text x="6" y="2613.5">唐山铁精粉</text><text x="6" y="2632">迁安方坯</text></g>
<text class="cap" x="152" y="2681" textLength="428" lengthAdjust="spacingAndGlyphs">10月17日铁精粉（65-60品位干基）930，较上一交易日降<tspan class="g">5</tspan></text>
<line x1="0" y1="2692" x2="733" y2="2692" stroke="#000" stroke-width="1.2"/>

<!-- chart7 -->
<ellipse cx="243" cy="2825" rx="78" ry="30" fill="#dbe7f4" opacity="0.8"/>
<text x="180" y="2838" style="font-size:34px;font-weight:bold;fill:#c8c8c8">LGMI</text>
<text class="wm" x="372" y="2835">www.lgmi.com</text>
<line x1="42" y1="2734" x2="42" y2="2896.6" class="axl"/><line x1="42" y1="2896.6" x2="717.6" y2="2896.6" class="axl"/>
<g class="axr"><text x="32" y="2738">5.00</text><text x="32" y="2792">4.50</text><text x="32" y="2846">4.00</text><text x="32" y="2900">3.50</text></g>
<text x="122" y="2726" textLength="365" lengthAdjust="spacingAndGlyphs" style="font-size:21px;font-weight:bold;fill:#262626">北京螺纹、唐山钢坯、天津热卷与铁矿比值对比图</text>
<line x1="276" y1="2748" x2="297" y2="2748" stroke="#d41f26" stroke-width="2"/><circle cx="286" cy="2748" r="2.8" fill="#d41f26"/><text class="lg" x="300" y="2752">螺矿比</text>
<line x1="363" y1="2748" x2="384" y2="2748" stroke="#1f3f8f" stroke-width="2"/><circle cx="373" cy="2748" r="2.8" fill="#1f3f8f"/><text class="lg" x="386" y="2752">坯矿比</text>
<line x1="449" y1="2748" x2="470" y2="2748" stroke="#808080" stroke-width="2"/><circle cx="459" cy="2748" r="2.8" fill="#808080"/><text class="lg" x="473" y="2752">卷矿比</text>
<polyline class="rl" points="76.3,2800.2 143.9,2802.4 211.4,2805.6 279,2805.6 346.5,2808.9 414.1,2795.9 481.6,2800.2 684.3,2804.5"/>
<path class="bl" stroke="#1f3f8f" d="M76.3,2854.4 L143.9,2852.2 L211.4,2855.4 L279,2855.4 L346.5,2861.9 C380,2868 400,2868 414.1,2866.3 C440,2860 455,2851 481.6,2851.1 L684.3,2853.3"/>
<polyline class="gl" points="76.3,2826.2 143.9,2819.7 211.4,2823 279,2824 346.5,2824 414.1,2833.8 481.6,2821.9 684.3,2824"/>
<g fill="#d41f26"><circle cx="76.3" cy="2800.2" r="2.8"/><circle cx="143.9" cy="2802.4" r="2.8"/><circle cx="211.4" cy="2805.6" r="2.8"/><circle cx="279" cy="2805.6" r="2.8"/><circle cx="346.5" cy="2808.9" r="2.8"/><circle cx="414.1" cy="2795.9" r="2.8"/><circle cx="481.6" cy="2800.2" r="2.8"/><circle cx="684.3" cy="2804.5" r="2.8"/></g>
<g fill="#1f3f8f"><circle cx="76.3" cy="2854.4" r="2.8"/><circle cx="143.9" cy="2852.2" r="2.8"/><circle cx="211.4" cy="2855.4" r="2.8"/><circle cx="279" cy="2855.4" r="2.8"/><circle cx="346.5" cy="2861.9" r="2.8"/><circle cx="414.1" cy="2866.3" r="2.8"/><circle cx="481.6" cy="2851.1" r="2.8"/><circle cx="684.3" cy="2853.3" r="2.8"/></g>
<g fill="#808080"><circle cx="76.3" cy="2826.2" r="2.8"/><circle cx="143.9" cy="2819.7" r="2.8"/><circle cx="211.4" cy="2823" r="2.8"/><circle cx="279" cy="2824" r="2.8"/><circle cx="346.5" cy="2824" r="2.8"/><circle cx="414.1" cy="2833.8" r="2.8"/><circle cx="481.6" cy="2821.9" r="2.8"/><circle cx="684.3" cy="2824" r="2.8"/></g>
<g class="ax" text-anchor="middle"><text x="76" y="2916">10月8日</text><text x="144" y="2916">10月9日</text><text x="211" y="2916">10月10日</text><text x="279" y="2916">10月11日</text><text x="347" y="2916">10月12日</text><text x="414" y="2916">10月13日</text><text x="482" y="2916">10月14日</text><text x="549" y="2916">10月15日</text><text x="617" y="2916">10月16日</text><text x="684" y="2916">10月17日</text></g>
<g class="grid">
<line x1="43.1" y1="2922.5" x2="717.6" y2="2922.5"/><line x1="7" y1="2938.7" x2="717.6" y2="2938.7"/><line x1="7" y1="2960.4" x2="717.6" y2="2960.4"/><line x1="7" y1="2982.2" x2="717.6" y2="2982.2"/><line x1="7" y1="3005" x2="717.6" y2="3005"/>
<line x1="7" y1="2938.7" x2="7" y2="3005"/><line x1="43.1" y1="2922.5" x2="43.1" y2="3005"/><line x1="127.3" y1="2922.5" x2="127.3" y2="3005"/><line x1="211.6" y1="2922.5" x2="211.6" y2="3005"/><line x1="295.8" y1="2922.5" x2="295.8" y2="3005"/><line x1="380.1" y1="2922.5" x2="380.1" y2="3005"/><line x1="464.8" y1="2922.5" x2="464.8" y2="3005"/><line x1="549" y1="2922.5" x2="549" y2="3005"/><line x1="633.3" y1="2922.5" x2="633.3" y2="3005"/><line x1="717.6" y1="2922.5" x2="717.6" y2="3005"/>
</g>
<g class="tc" style="font-size:12px">
<text x="85.2" y="2934.5">22/10/8</text><text x="169.5" y="2934.5">22/10/9</text><text x="253.7" y="2934.5">22/10/10</text><text x="338" y="2934.5">22/10/11</text><text x="422.5" y="2934.5">22/10/12</text><text x="506.9" y="2934.5">22/10/13</text><text x="591.2" y="2934.5">22/10/14</text><text x="675.5" y="2934.5">22/10/17</text>
<text x="85.2" y="2953.5">4.39</text><text x="169.5" y="2953.5">4.37</text><text x="253.7" y="2953.5">4.34</text><text x="338" y="2953.5">4.34</text><text x="422.5" y="2953.5">4.31</text><text x="506.9" y="2953.5">4.43</text><text x="591.2" y="2953.5">4.39</text><text x="675.5" y="2953.5">4.35</text>
<text x="85.2" y="2975.3">3.89</text><text x="169.5" y="2975.3">3.91</text><text x="253.7" y="2975.3">3.88</text><text x="338" y="2975.3">3.88</text><text x="422.5" y="2975.3">3.82</text><text x="506.9" y="2975.3">3.78</text><text x="591.2" y="2975.3">3.92</text><text x="675.5" y="2975.3">3.90</text>
<text x="85.2" y="2997.5">4.15</text><text x="169.5" y="2997.5">4.21</text><text x="253.7" y="2997.5">4.18</text><text x="338" y="2997.5">4.17</text><text x="422.5" y="2997.5">4.17</text><text x="506.9" y="2997.5">4.08</text><text x="591.2" y="2997.5">4.19</text><text x="675.5" y="2997.5">4.17</text>
</g>
<g class="tl" style="font-size:12px"><text x="8" y="2953.5">螺矿比</text><text x="8" y="2975.3">坯矿比</text><text x="8" y="2997.5">卷矿比</text></g>
<text class="cap" x="109" y="3028" textLength="514" lengthAdjust="spacingAndGlyphs">10月17日螺矿比 4.35降<tspan class="g">0.04</tspan>；坯矿比3.90降<tspan class="g">0.02</tspan>；卷矿比 4.17降<tspan class="g">0.02</tspan></text>
<line x1="0" y1="3036" x2="733" y2="3036" stroke="#000" stroke-width="1.2"/>

<rect x="0" y="3056" width="21" height="33" fill="#2f5597"/>
<text class="sec" x="35" y="3080" textLength="210" lengthAdjust="spacingAndGlyphs">唐山型材钢厂生产情况</text>
<text class="unit" x="686" y="3076" textLength="36" lengthAdjust="spacingAndGlyphs">(万吨)</text>
<line x1="0" y1="3098" x2="733" y2="3098" stroke="#000" stroke-width="1.2"/>

<!-- chart8 bars -->
<ellipse cx="250" cy="3276" rx="78" ry="34" fill="#dbe7f4" opacity="0.8"/>
<text x="188" y="3290" style="font-size:36px;font-weight:bold;fill:#c8c8c8">LGMI</text>
<text class="wm" x="378" y="3288">www.lgmi.com</text>
<g transform="translate(0,3100) scale(0.4681,0.3508)" fill="#2f5597">
<rect x="122" y="750" width="30.3" height="39"/>
<rect x="212.8" y="565" width="30.3" height="224"/><rect x="243.1" y="645" width="30.3" height="144"/><rect x="273.4" y="698" width="30.3" height="91"/><rect x="303.7" y="355" width="30.3" height="434"/><rect x="334" y="577" width="30.3" height="212"/>
<rect x="455.1" y="598" width="30.3" height="191"/><rect x="485.4" y="730" width="30.3" height="59"/><rect x="515.7" y="611" width="30.3" height="178"/><rect x="546" y="715" width="30.3" height="74"/>
<rect x="636.8" y="745" width="30.3" height="44"/><rect x="667.1" y="688" width="30.3" height="101"/><rect x="697.4" y="643" width="30.3" height="146"/><rect x="727.7" y="240" width="30.3" height="549"/><rect x="758" y="695" width="30.3" height="94"/>
<rect x="848.7" y="414" width="30.3" height="375"/><rect x="879" y="377" width="30.3" height="412"/><rect x="909.3" y="719" width="30.3" height="70"/><rect x="939.6" y="689" width="30.3" height="100"/><rect x="969.9" y="723" width="30.3" height="66"/>
<rect x="1212.1" y="748" width="30.3" height="41"/><rect x="1242.4" y="730" width="30.3" height="59"/><rect x="1272.7" y="580" width="30.3" height="209"/><rect x="1303" y="739" width="30.3" height="50"/><rect x="1333.2" y="655" width="30.3" height="134"/><rect x="1363.5" y="636" width="30.3" height="153"/><rect x="1393.8" y="583" width="30.3" height="206"/>
<rect x="1484.7" y="698" width="30.3" height="91"/>
</g>
<line x1="56" y1="3180" x2="56" y2="3377" class="axl"/><line x1="56" y1="3377" x2="710" y2="3377" class="axl"/>
<g class="axr" style="font-size:9.5px"><text x="47" y="3189">120000</text><text x="47" y="3202.5">112000</text><text x="47" y="3215.5">104000</text><text x="47" y="3228">96000</text><text x="47" y="3241">88000</text><text x="47" y="3253">80000</text><text x="47" y="3266">72000</text><text x="47" y="3279">64000</text><text x="47" y="3291.5">56000</text><text x="47" y="3304.5">48000</text><text x="47" y="3316.5">40000</text><text x="47" y="3329.5">32000</text><text x="47" y="3343">24000</text><text x="47" y="3355">16000</text><text x="47" y="3368">8000</text><text x="47" y="3380">0</text></g>
<text x="224" y="3219" textLength="182" lengthAdjust="spacingAndGlyphs" style="font-size:18px;font-weight:bold;fill:#404040">唐山型材钢厂日出货量</text>
<g style="font-size:7.5px;fill:#595959;font-weight:bold;text-anchor:end">
<text transform="translate(67,3386) rotate(-90)">9月2日</text><text transform="translate(81,3386) rotate(-90)">9月3日</text><text transform="translate(95,3386) rotate(-90)">9月4日</text><text transform="translate(109,3386) rotate(-90)">9月5日</text><text transform="translate(124,3386) rotate(-90)">9月6日</text><text transform="translate(138,3386) rotate(-90)">9月7日</text><text transform="translate(152,3386) rotate(-90)">9月8日</text><text transform="translate(166,3386) rotate(-90)">9月9日</text><text transform="translate(180,3386) rotate(-90)">9月10日</text><text transform="translate(194,3386) rotate(-90)">9月11日</text><text transform="translate(209,3386) rotate(-90)">9月12日</text><text transform="translate(223,3386) rotate(-90)">9月13日</text><text transform="translate(237,3386) rotate(-90)">9月14日</text><text transform="translate(251,3386) rotate(-90)">9月15日</text><text transform="translate(265,3386) rotate(-90)">9月16日</text><text transform="translate(279,3386) rotate(-90)">9月17日</text><text transform="translate(294,3386) rotate(-90)">9月18日</text><text transform="translate(308,3386) rotate(-90)">9月19日</text><text transform="translate(322,3386) rotate(-90)">9月20日</text><text transform="translate(336,3386) rotate(-90)">9月21日</text><text transform="translate(350,3386) rotate(-90)">9月22日</text><text transform="translate(364,3386) rotate(-90)">9月23日</text><text transform="translate(379,3386) rotate(-90)">9月24日</text><text transform="translate(393,3386) rotate(-90)">9月25日</text><text transform="translate(407,3386) rotate(-90)">9月26日</text><text transform="translate(421,3386) rotate(-90)">9月27日</text><text transform="translate(435,3386) rotate(-90)">9月28日</text><text transform="translate(449,3386) rotate(-90)">9月29日</text><text transform="translate(464,3386) rotate(-90)">9月30日</text><text transform="translate(478,3386) rotate(-90)">10月1日</text><text transform="translate(492,3386) rotate(-90)">10月2日</text><text transform="translate(506,3386) rotate(-90)">10月3日</text><text transform="translate(520,3386) rotate(-90)">10月4日</text><text transform="translate(534,3386) rotate(-90)">10月5日</text><text transform="translate(549,3386) rotate(-90)">10月6日</text><text transform="translate(563,3386) rotate(-90)">10月7日</text><text transform="translate(577,3386) rotate(-90)">10月8日</text><text transform="translate(591,3386) rotate(-90)">10月9日</text><text transform="translate(605,3386) rotate(-90)">10月10日</text><text transform="translate(619,3386) rotate(-90)">10月11日</text><text transform="translate(634,3386) rotate(-90)">10月12日</text><text transform="translate(648,3386) rotate(-90)">10月13日</text><text transform="translate(662,3386) rotate(-90)">10月14日</text><text transform="translate(676,3386) rotate(-90)">10月15日</text><text transform="translate(690,3386) rotate(-90)">10月16日</text><text transform="translate(704,3386) rotate(-90)">10月17日</text>
</g>
<text class="p" x="5" y="3465" textLength="65" lengthAdjust="spacingAndGlyphs">10月17日</text>
<line x1="77" y1="3441" x2="77" y2="3476" stroke="#d0d0d0"/>
<text class="p" x="81" y="3465" textLength="504" lengthAdjust="spacingAndGlyphs">唐山24家型材钢厂出货总量约2.06万吨，较上个交易日减少约2.54万吨。</text>
<line x1="0" y1="3476" x2="733" y2="3476" stroke="#c8c8c8"/>
<text class="p" x="5" y="3508" textLength="721" lengthAdjust="spacingAndGlyphs">17日唐山型材价格主稳观市，盘中期螺持绿震荡，市场谨慎采购，整体交投气氛维持弱势。据统计截止</text>
<text class="p" x="5" y="3531" textLength="710" lengthAdjust="spacingAndGlyphs">16:00唐山24家型材钢厂出货总量约20590吨，较上七个工作日均值降25.26%，其中，工字钢2300吨；</text>
<text class="p" x="5" y="3554" textLength="200" lengthAdjust="spacingAndGlyphs">槽钢7190吨；角钢11100吨。</text>
<line x1="0" y1="3573" x2="733" y2="3573" stroke="#000" stroke-width="1.2"/>
<text class="p" x="5" y="3603" textLength="685" lengthAdjust="spacingAndGlyphs">兰格钢铁网统计唐山24家样本轧钢企业共36条轧线，停产或检修15条，较上周减少1条，开工率为</text>
<text class="p" x="5" y="3626" textLength="667" lengthAdjust="spacingAndGlyphs">58.33%，较上周六上升2.78%，调坯轧材厂根据市场情况调整生产状态，开工率波动幅度较小。</text>
<line x1="0" y1="3644" x2="733" y2="3644" stroke="#000" stroke-width="1.2"/>

<!-- section 6 -->
<rect x="0" y="3664" width="21" height="33" fill="#2f5597"/>
<text class="sec" x="35" y="3688" textLength="252" lengthAdjust="spacingAndGlyphs">全国主要钢企高炉开工情况</text>
<line x1="0" y1="3706" x2="733" y2="3706" stroke="#000" stroke-width="1.2"/>
<ellipse cx="245" cy="3846" rx="78" ry="28" fill="#dbe7f4" opacity="0.8"/>
<text x="182" y="3861" style="font-size:36px;font-weight:bold;fill:#c8c8c8">LGMI</text>
<text class="wm" x="370" y="3855">www.lgmi.com</text>
<line x1="55" y1="3737" x2="55" y2="3962" class="axl"/><line x1="55" y1="3962" x2="696" y2="3962" class="axl"/>
<g class="axr" style="font-size:11px"><text x="42" y="3741">85.00</text><text x="42" y="3786">80.00</text><text x="42" y="3831">75.00</text><text x="42" y="3876">70.00</text><text x="42" y="3921">65.00</text><text x="42" y="3966">60.00</text></g>
<text x="366" y="3744" text-anchor="middle" textLength="208" lengthAdjust="spacingAndGlyphs" style="font-size:20px;fill:#595959;font-family:'Liberation Serif','Noto Serif CJK SC',serif">全国主要钢企高炉开工率</text>
<g transform="translate(0,3650) scale(0.4681,0.3333)">
<polyline vector-effect="non-scaling-stroke" fill="none" stroke="#2f5597" stroke-width="3.5" stroke-linejoin="round" stroke-linecap="round" points="118,665 150,635 170,605 190,575 205,578 225,595 255,602 270,570 290,475 310,430 330,448 345,448 360,400 380,360 395,370 410,380 430,383 450,378 470,372 495,365 510,372 530,395 545,395 560,370 580,330 600,328 630,333 670,333 700,340 730,348 750,347 780,333 805,327 820,330 840,365 860,390 880,398 900,405 920,420 940,430 960,425 975,440 1000,490 1020,515 1050,523 1080,520 1100,510 1130,497 1160,490 1175,478 1200,440 1220,420 1260,405 1300,395 1330,390 1370,390 1400,380 1420,378 1463,384"/>
</g>
<g class="ax" text-anchor="middle" style="font-size:11px"><text x="57" y="3981">2022/02/13</text><text x="131" y="3981">2022/03/13</text><text x="213" y="3981">2022/04/13</text><text x="293" y="3981">2022/05/13</text><text x="373" y="3981">2022/06/13</text><text x="453" y="3981">2022/07/13</text><text x="535" y="3981">2022/08/13</text><text x="617" y="3981">2022/09/13</text><text x="696" y="3981">2022/10/13</text></g>
<text class="p" x="5" y="4015" textLength="722" lengthAdjust="spacingAndGlyphs">全国201家生产企业中有56家钢厂共计81座高炉停产，其中在检修有50家73座(上周50家71座)，有6家8</text>
<text class="p" x="5" y="4038" textLength="722" lengthAdjust="spacingAndGlyphs">座高炉不再开启，81座停产高炉总容积为71540立方米，较上周增加1500立方米，按容积计算主要钢铁</text>
<text class="p" x="5" y="4061" textLength="330" lengthAdjust="spacingAndGlyphs">企业高炉开工率为80.47%，较上周降低0.14%。</text>
<text class="p" x="5" y="4083" textLength="340" lengthAdjust="spacingAndGlyphs">影响日铁水量为21.1万吨，较上周增加0.65万吨。</text>
<text x="5" y="4105" textLength="567" lengthAdjust="spacingAndGlyphs" style="font-size:14px;font-weight:bold;fill:#000">注：自7月21日开始，兰格钢铁网对原样本160家571座高炉样本进行更换，新样本为201家650座。</text>
<line x1="0" y1="4110" x2="733" y2="4110" stroke="#000" stroke-width="1.2"/>

<!-- section 7 -->
<text class="sec" x="35" y="4150" textLength="126" lengthAdjust="spacingAndGlyphs">唐山钢坯成本</text>
<text class="unit" x="680" y="4146" textLength="42" lengthAdjust="spacingAndGlyphs">(元/吨)</text>
<line x1="0" y1="4173" x2="733" y2="4173" stroke="#000" stroke-width="1.2"/>
<ellipse cx="256" cy="4320" rx="74" ry="55" fill="#dbe7f4" opacity="0.8"/>
<text x="193" y="4340" style="font-size:42px;font-weight:bold;fill:#c8c8c8">LGMI</text>
<text class="wm" x="374" y="4338" style="font-size:44px">www.lgmi.com</text>
<line x1="71" y1="4193" x2="71" y2="4427" class="axl"/><line x1="71" y1="4427" x2="689" y2="4427" class="axl"/>
<g class="axr" style="font-size:11px"><text x="61" y="4197">5100</text><text x="61" y="4217">4950</text><text x="61" y="4236">4800</text><text x="61" y="4256">4650</text><text x="61" y="4275">4500</text><text x="61" y="4295">4350</text><text x="61" y="4314">4200</text><text x="61" y="4334">4050</text><text x="61" y="4353">3900</text><text x="61" y="4373">3750</text><text x="61" y="4392">3600</text><text x="61" y="4412">3450</text><text x="61" y="4431">3300</text></g>
<text x="366" y="4208" text-anchor="middle" textLength="358" lengthAdjust="spacingAndGlyphs" style="font-size:21px;fill:#404040;font-family:'Liberation Serif','Noto Serif CJK SC',serif">钢坯出厂价与钢坯生产成本均价走势对比图</text>
<line x1="261" y1="4224" x2="287" y2="4224" stroke="#c00000" stroke-width="3"/><text x="290" y="4229" style="font-size:13px;font-weight:bold;fill:#404040">迁安方坯</text>
<line x1="389" y1="4224" x2="416" y2="4224" stroke="#2f5597" stroke-width="3"/><text x="418" y="4229" style="font-size:13px;font-weight:bold;fill:#404040">钢坯成本均价</text>
<g transform="translate(0,4150) scale(0.4681,0.3342)">
<polyline vector-effect="non-scaling-stroke" fill="none" stroke="#2f5597" stroke-width="3" stroke-linejoin="round" points="152,338 155,325 195,325 205,290 245,290 255,268 290,268 300,246 440,246 447,300 490,300 497,330 540,330 548,340 590,340 595,370 635,370 640,390 685,390 692,360 735,360 740,410 780,410 790,430 830,430 835,517 880,517 887,612 925,612 935,632 975,632 985,640 1025,640 1030,727 1075,727 1080,729 1120,729 1128,680 1175,680 1180,692 1220,692 1225,705 1270,705 1278,690 1320,690 1325,688 1368,688 1372,707 1462,707 1470,645"/>
<polyline vector-effect="non-scaling-stroke" fill="none" stroke="#c00000" stroke-width="3" stroke-linejoin="round" points="152,215 165,220 180,250 192,275 200,262 210,255 220,243 235,250 245,240 255,235 265,250 280,262 290,285 300,270 315,272 330,262 345,250 358,245 365,275 375,290 385,295 395,318 410,300 425,315 440,335 455,368 470,355 485,348 492,375 500,385 540,385 552,365 590,365 610,357 625,365 635,410 648,408 655,485 665,505 678,540 685,625 692,590 705,598 725,578 740,543 748,545 760,568 775,595 785,590 800,590 815,620 825,650 840,710 850,790 858,790 870,760 880,735 930,735 938,705 945,700 958,675 970,650 985,650 990,672 1000,670 1020,650 1030,665 1045,650 1065,652 1073,640 1080,660 1090,665 1095,690 1110,683 1120,668 1135,650 1150,653 1165,663 1170,680 1180,672 1185,690 1200,685 1225,683 1240,668 1270,668 1280,680 1290,692 1310,697 1325,718 1340,693 1360,695 1370,693 1375,675 1400,675 1455,670 1462,690 1470,705"/>
</g>
<g style="font-size:9.5px;fill:#595959;text-anchor:end">
<text transform="translate(78,4436) rotate(-90)">4月6日</text><text transform="translate(101,4436) rotate(-90)">4月13日</text><text transform="translate(124,4436) rotate(-90)">4月20日</text><text transform="translate(146,4436) rotate(-90)">4月27日</text><text transform="translate(169,4436) rotate(-90)">5月4日</text><text transform="translate(192,4436) rotate(-90)">5月11日</text><text transform="translate(215,4436) rotate(-90)">5月18日</text><text transform="translate(237,4436) rotate(-90)">5月25日</text><text transform="translate(261,4436) rotate(-90)">6月1日</text><text transform="translate(283,4436) rotate(-90)">6月8日</text><text transform="translate(305,4436) rotate(-90)">6月15日</text><text transform="translate(329,4436) rotate(-90)">6月22日</text><text transform="translate(351,4436) rotate(-90)">6月29日</text><text transform="translate(373,4436) rotate(-90)">7月6日</text><text transform="translate(396,4436) rotate(-90)">7月13日</text><text transform="translate(418,4436) rotate(-90)">7月20日</text><text transform="translate(442,4436) rotate(-90)">7月27日</text><text transform="translate(464,4436) rotate(-90)">8月3日</text><text transform="translate(488,4436) rotate(-90)">8月10日</text><text transform="translate(510,4436) rotate(-90)">8月17日</text><text transform="translate(533,4436) rotate(-90)">8月24日</text><text transform="translate(556,4436) rotate(-90)">8月31日</text><text transform="translate(579,4436) rotate(-90)">9月7日</text><text transform="translate(602,4436) rotate(-90)">9月14日</text><text transform="translate(624,4436) rotate(-90)">9月21日</text><text transform="translate(647,4436) rotate(-90)">9月28日</text><text transform="translate(670,4436) rotate(-90)">10月5日</text><text transform="translate(692,4436) rotate(-90)">10月12日</text>
</g>
<text class="p" x="5" y="4528" textLength="697" lengthAdjust="spacingAndGlyphs">本周（10月12日）唐山地区样本长流程钢厂，钢坯含税累计成本均值为3777元，较上期上升153元。</text>
</svg>
</body></html>
